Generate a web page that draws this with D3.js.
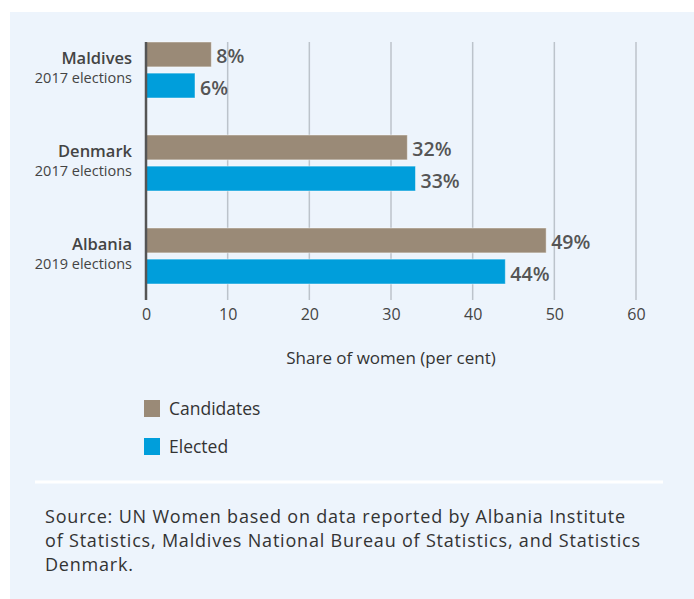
<!DOCTYPE html>
<html>
<head>
<meta charset="utf-8">
<script src="https://cdn.jsdelivr.net/npm/d3@7"></script>
<style>
  html, body { margin: 0; padding: 0; background: #ffffff; }
  svg { display: block; font-family: "Open Sans", "DejaVu Sans", sans-serif; }
</style>
</head>
<body>
<svg id="chart" width="694" height="599"></svg>
<script>
// Share of women among candidates and elected members, by country
const countries = ["Maldives", "Denmark", "Albania"];
const electionLabels = ["2017 elections", "2017 elections", "2019 elections"];
const candidates = [8, 32, 49];
const elected = [6, 33, 44];
const xTicks = [0, 10, 20, 30, 40, 50, 60];
const seriesNames = ["Candidates", "Elected"];
const seriesColors = ["#9A8A77", "#009EDB"];
const axisTitle = "Share of women (per cent)";
const sourceLines = [
  "Source: UN Women based on data reported by Albania Institute",
  "of Statistics, Maldives National Bureau of Statistics, and Statistics",
  "Denmark."
];

const svg = d3.select("#chart");

// panel background
svg.append("rect")
  .attr("x", 10).attr("y", 12)
  .attr("width", 684).attr("height", 587)
  .attr("fill", "#EDF4FC");

const plotTop = 42, plotBottom = 300;
const x = d3.scaleLinear().domain([0, 60]).range([146, 636]);
const y0 = d3.scaleBand().domain(countries).range([42, 321]).paddingInner(0).paddingOuter(0);
const y1 = d3.scaleBand().domain(seriesNames).range([0, 56]).paddingInner(0.2).paddingOuter(0);

// vertical gridlines
svg.append("g")
  .selectAll("line")
  .data(xTicks.filter(t => t > 0))
  .join("line")
  .attr("x1", d => x(d)).attr("x2", d => x(d))
  .attr("y1", plotTop).attr("y2", plotBottom)
  .attr("stroke", "#BCC3CB").attr("stroke-width", 1.5);

// x axis tick labels
const xAxis = d3.axisBottom(x).tickValues(xTicks).tickSize(0).tickPadding(0);
const gx = svg.append("g").attr("transform", `translate(0,${plotBottom + 9})`).call(xAxis);
gx.select(".domain").remove();
gx.selectAll("text")
  .attr("dy", "0.71em")
  .attr("font-size", 16)
  .attr("font-family", "'Open Sans', sans-serif")
  .attr("fill", "#444");

svg.append("text")
  .attr("x", x(30)).attr("y", 364)
  .attr("text-anchor", "middle")
  .attr("font-size", 17)
  .attr("fill", "#333")
  .text(axisTitle);

// bars
const rows = countries.map((c, i) => ({
  country: c,
  sub: electionLabels[i],
  values: [
    { series: seriesNames[0], value: candidates[i] },
    { series: seriesNames[1], value: elected[i] }
  ]
}));

const color = d3.scaleOrdinal().domain(seriesNames).range(seriesColors);

const groups = svg.append("g").selectAll("g")
  .data(rows)
  .join("g")
  .attr("transform", d => `translate(0,${y0(d.country)})`);

groups.selectAll("rect")
  .data(d => d.values)
  .join("rect")
  .attr("x", x(0))
  .attr("y", d => y1(d.series))
  .attr("width", d => x(d.value) - x(0))
  .attr("height", y1.bandwidth())
  .attr("fill", d => color(d.series))
  .attr("stroke", "rgba(255,255,255,0.45)")
  .attr("stroke-width", 1);

groups.selectAll("text.value")
  .data(d => d.values)
  .join("text")
  .attr("class", "value")
  .attr("x", d => x(d.value) + 5)
  .attr("y", d => y1(d.series) + y1.bandwidth() / 2 + 2)
  .attr("dy", "0.36em")
  .attr("font-size", 19.5)
  .attr("font-weight", 600)
  .attr("fill", "#555")
  .text(d => d.value + "%");

// country labels
groups.append("text")
  .attr("x", 132).attr("y", 22)
  .attr("text-anchor", "end")
  .attr("font-size", 16.5)
  .attr("font-weight", 600)
  .attr("fill", "#444")
  .text(d => d.country);

groups.append("text")
  .attr("x", 132).attr("y", 41)
  .attr("text-anchor", "end")
  .attr("font-size", 14.5)
  .attr("fill", "#444")
  .text(d => d.sub);

// zero baseline
svg.append("line")
  .attr("x1", x(0)).attr("x2", x(0))
  .attr("y1", plotTop).attr("y2", plotBottom)
  .attr("stroke", "#555").attr("stroke-width", 2.5);

// legend
const legend = svg.append("g").selectAll("g")
  .data(seriesNames)
  .join("g")
  .attr("transform", (d, i) => `translate(144,${400 + i * 38})`);

legend.append("rect")
  .attr("width", 16).attr("height", 17)
  .attr("fill", d => color(d));

legend.append("text")
  .attr("x", 25).attr("y", 9)
  .attr("dy", "0.36em")
  .attr("font-size", 17.5)
  .attr("fill", "#333")
  .text(d => d);

// separator above the source note
svg.append("line")
  .attr("x1", 35).attr("x2", 663)
  .attr("y1", 482).attr("y2", 482)
  .attr("stroke", "#ffffff").attr("stroke-width", 3);

svg.append("g").selectAll("text")
  .data(sourceLines)
  .join("text")
  .attr("x", 45)
  .attr("y", (d, i) => 523 + i * 24)
  .attr("font-size", 18)
  .attr("letter-spacing", 0.8)
  .attr("fill", "#333")
  .text(d => d);
</script>
</body>
</html>
